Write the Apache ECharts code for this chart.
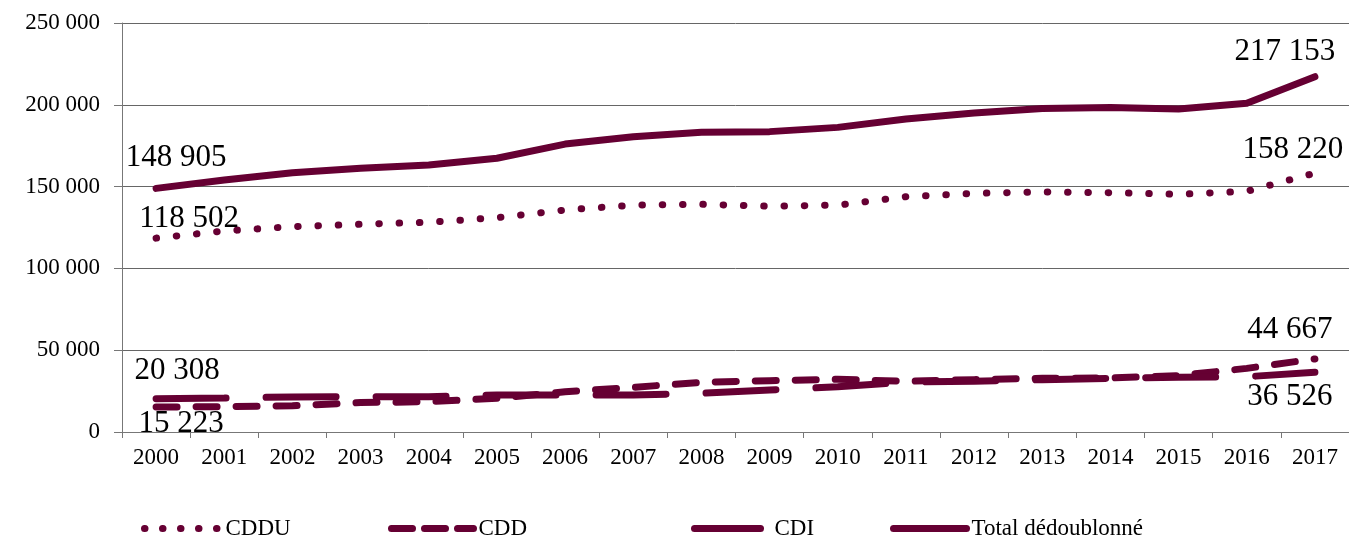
<!DOCTYPE html>
<html>
<head>
<meta charset="utf-8">
<script src="https://cdn.jsdelivr.net/npm/echarts@6/dist/echarts.min.js"></script>
<style>html,body{margin:0;padding:0;background:#fff}#c{width:1349px;height:536px}</style>
</head>
<body>
<div id="c"></div>
<script>
var years = ['2000','2001','2002','2003','2004','2005','2006','2007','2008','2009','2010','2011','2012','2013','2014','2015','2016','2017'];
var cddu = [118502,122900,125500,127000,128200,131000,135700,138700,139200,138000,138700,143800,145900,146700,146300,145300,147100,158220];
var cdd = [15223,15500,16000,18000,18500,20600,24600,27300,30400,31400,32200,31000,32000,32800,33000,34500,38900,44667];
var cdi = [20308,20800,21400,21600,21600,22600,22600,22600,23700,25700,27700,30500,31000,32000,32800,33500,33800,36526];
var total = [148905,154000,158500,161200,163200,167300,176000,180500,183200,183600,186200,191300,195000,197800,198400,197400,200900,217153];
var yTicks = [0,50000,100000,150000,200000,250000];

var COLOR = '#660033';
var FONT = '"Liberation Serif","Times New Roman",serif';

function fmt(v){ return String(v).replace(/\B(?=(\d{3})+(?!\d))/g,' '); }

function withLabels(arr, firstOff, lastOff){
  return arr.map(function(v,i){
    var off = i===0 ? firstOff : (i===arr.length-1 ? lastOff : null);
    if(!off) return v;
    return {value:v, label:{show:true, position:'inside', offset:off, formatter:function(p){return fmt(p.value);}, color:'#000', fontFamily:FONT, fontSize:31}};
  });
}

var styles = {
  'CDDU': {width:7, type:[0.5,19.8], cap:'round'},
  'CDD': {width:7, type:[21,19], cap:'round'},
  'CDI': {width:7, type:[70,40], cap:'round'},
  'Total dédoublonné': {width:7, type:'solid', cap:'round', join:'round'}
};

var legendStyles = {
  'CDDU': {width:7, type:[0.5,17.5], cap:'round'},
  'CDD': {width:7, type:[21,12], cap:'round'},
  'CDI': styles['CDI'],
  'Total dédoublonné': styles['Total dédoublonné']
};

function mkSeries(name, data){
  return {
    name:name, type:'line', data:data, symbol:'circle', symbolSize:1, showSymbol:true,
    itemStyle:{color:'rgba(0,0,0,0)', borderWidth:0},
    lineStyle:Object.assign({color:COLOR}, styles[name]),
    emphasis:{disabled:true}, animation:false, z:2
  };
}

function mkLegend(name, left, w, pad){
  return {
    top:512, left:left, data:[name], itemWidth:w, itemHeight:12, selectedMode:false,
    itemStyle:{color:'rgba(0,0,0,0)', borderWidth:0},
    lineStyle:Object.assign({color:COLOR}, legendStyles[name]),
    textStyle:{fontFamily:FONT, fontSize:23, color:'#000', padding:[0,0,0,pad||0]}
  };
}

var chart = echarts.init(document.getElementById('c'), null, {renderer:'canvas'});
chart.setOption({
  animation:false,
  grid:{left:122, right:0, top:23, bottom:104, containLabel:false},
  legend:[
    mkLegend('CDDU', 136, 76, 0),
    mkLegend('CDD', 383, 82, 0),
    mkLegend('CDI', 686, 66, 9),
    mkLegend('Total dédoublonné', 885, 73, 0)
  ],
  xAxis:{type:'category', data:years, boundaryGap:true,
    axisLine:{lineStyle:{color:'#777', width:1}},
    axisTick:{show:true, length:6, lineStyle:{color:'#777'}},
    axisLabel:{fontFamily:FONT, fontSize:23, color:'#000', margin:14, interval:0}
  },
  yAxis:{type:'value', min:0, max:250000, interval:50000,
    axisLine:{show:true, lineStyle:{color:'#777'}},
    axisTick:{show:true, length:8, lineStyle:{color:'#777'}},
    splitLine:{show:true, lineStyle:{color:'#666', width:1}},
    axisLabel:{fontFamily:FONT, fontSize:23, color:'#000', margin:22, formatter:function(v){return fmt(v);}}
  },
  series:[
    mkSeries('CDDU', withLabels(cddu,[33,-19],[-22,-23])),
    mkSeries('CDD', withLabels(cdd,[25,17],[-25,-29])),
    mkSeries('CDI', withLabels(cdi,[21,-28],[-25,25])),
    mkSeries('Total dédoublonné', withLabels(total,[20,-31],[-30,-25]))
  ]
});
</script>
</body>
</html>
